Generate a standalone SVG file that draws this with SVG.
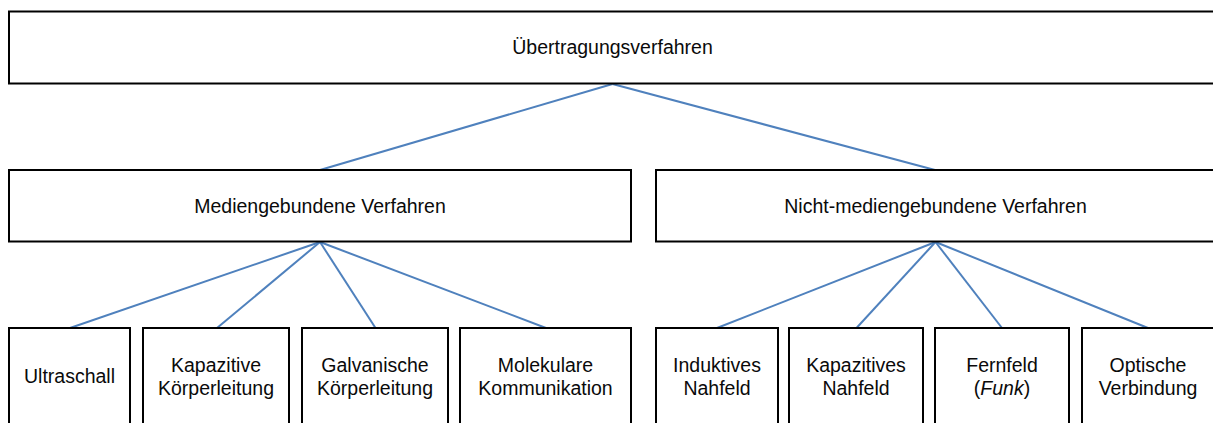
<svg xmlns="http://www.w3.org/2000/svg" width="1213" height="423" viewBox="0 0 1213 423">
<style>
.box{fill:#fff;stroke:#000;stroke-width:2}
.t{font-family:"Liberation Sans",Arial,sans-serif;font-size:19.5px;fill:#0a0a0a;text-anchor:middle}
.c{stroke:#4F81BD;stroke-width:2;fill:none}
</style>
<rect width="1213" height="423" fill="#fff"/>
<g id="connectors">
<line class="c" x1="612.5" y1="84" x2="320" y2="170"/>
<line class="c" x1="612.5" y1="84" x2="935" y2="170"/>
<line class="c" x1="320" y1="242" x2="70" y2="328"/>
<line class="c" x1="320" y1="242" x2="217" y2="328"/>
<line class="c" x1="320" y1="242" x2="375.5" y2="328"/>
<line class="c" x1="320" y1="242" x2="546" y2="328"/>
<line class="c" x1="935.5" y1="242" x2="717" y2="328"/>
<line class="c" x1="935.5" y1="242" x2="856.5" y2="328"/>
<line class="c" x1="935.5" y1="242" x2="1002" y2="328"/>
<line class="c" x1="935.5" y1="242" x2="1148" y2="328"/>
</g>
<g id="n0"><rect class="box" x="9" y="11.5" width="1207" height="72"/><text class="t" x="612.5" y="54">Übertragungsverfahren</text></g>
<g id="n1"><rect class="box" x="9" y="170" width="622" height="71.5"/><text class="t" x="320" y="213">Mediengebundene Verfahren</text></g>
<g id="n2"><rect class="box" x="656" y="170" width="560" height="71.5"/><text class="t" x="935.5" y="213">Nicht-mediengebundene Verfahren</text></g>
<g id="n3"><rect class="box" x="9" y="328" width="121" height="120"/><text class="t" x="69.5" y="383">Ultraschall</text></g>
<g id="n4"><rect class="box" x="143" y="328" width="146" height="120"/><text class="t" x="216" y="372">Kapazitive</text><text class="t" x="216" y="395">Körperleitung</text></g>
<g id="n5"><rect class="box" x="302" y="328" width="146" height="120"/><text class="t" x="375" y="372">Galvanische</text><text class="t" x="375" y="395">Körperleitung</text></g>
<g id="n6"><rect class="box" x="460" y="328" width="171" height="120"/><text class="t" x="545.5" y="372">Molekulare</text><text class="t" x="545.5" y="395">Kommunikation</text></g>
<g id="n7"><rect class="box" x="656" y="328" width="122" height="120"/><text class="t" x="717" y="372">Induktives</text><text class="t" x="717" y="395">Nahfeld</text></g>
<g id="n8"><rect class="box" x="789" y="328" width="134" height="120"/><text class="t" x="856" y="372">Kapazitives</text><text class="t" x="856" y="395">Nahfeld</text></g>
<g id="n9"><rect class="box" x="935" y="328" width="134" height="120"/><text class="t" x="1002" y="372">Fernfeld</text><text class="t" x="1002" y="395">(<tspan font-style="italic">Funk</tspan>)</text></g>
<g id="n10"><rect class="box" x="1082" y="328" width="132" height="120"/><text class="t" x="1148" y="372">Optische</text><text class="t" x="1148" y="395">Verbindung</text></g>
</svg>
